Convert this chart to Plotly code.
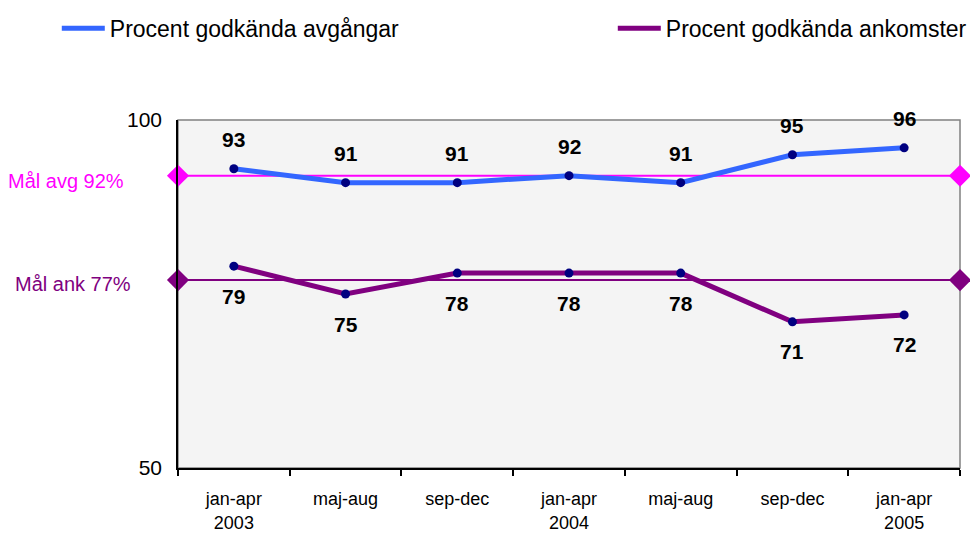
import plotly.graph_objects as go

categories = ["jan-apr<br>2003", "maj-aug", "sep-dec", "jan-apr<br>2004",
              "maj-aug", "sep-dec", "jan-apr<br>2005"]
avgangar = [93, 91, 91, 92, 91, 95, 96]
ankomster = [79, 75, 78, 78, 78, 71, 72]
mal_avg = 92
mal_ank = 77
y_ticks = [50, 100]

BLUE = "#3366FF"
PURPLE = "#800080"
MAGENTA = "#FF00FF"
NAVY = "#000080"
FONT = "Liberation Sans, Arial, sans-serif"

xs = list(range(len(categories)))
x_ends = [-0.5, len(categories) - 0.5]

fig = go.Figure()

# goal lines with diamond ends
fig.add_trace(go.Scatter(x=x_ends, y=[mal_avg, mal_avg], mode="lines+markers",
                         line=dict(color=MAGENTA, width=2),
                         marker=dict(symbol="diamond", size=17, color=MAGENTA),
                         showlegend=False, cliponaxis=False, hoverinfo="skip"))
fig.add_trace(go.Scatter(x=x_ends, y=[mal_ank, mal_ank], mode="lines+markers",
                         line=dict(color=PURPLE, width=2),
                         marker=dict(symbol="diamond", size=17, color=PURPLE),
                         showlegend=False, cliponaxis=False, hoverinfo="skip"))

# series lines
fig.add_trace(go.Scatter(x=xs, y=avgangar, mode="lines", name="Procent godkända avgångar",
                         line=dict(color=BLUE, width=5), legend="legend"))
fig.add_trace(go.Scatter(x=xs, y=ankomster, mode="lines", name="Procent godkända ankomster",
                         line=dict(color=PURPLE, width=5), legend="legend2"))
# markers
fig.add_trace(go.Scatter(x=xs, y=avgangar, mode="markers", showlegend=False,
                         marker=dict(color=NAVY, size=9)))
fig.add_trace(go.Scatter(x=xs, y=ankomster, mode="markers", showlegend=False,
                         marker=dict(color=NAVY, size=9)))

annotations = []
for x, v in zip(xs, avgangar):
    annotations.append(dict(x=x, y=v, text=f"<b>{v}</b>", showarrow=False, yshift=29,
                            font=dict(family=FONT, size=21, color="black")))
for x, v in zip(xs, ankomster):
    annotations.append(dict(x=x, y=v, text=f"<b>{v}</b>", showarrow=False, yshift=-30,
                            font=dict(family=FONT, size=21, color="black")))
annotations.append(dict(x=-0.5, y=mal_avg, xshift=-52, yshift=-5, xanchor="right",
                        text="Mål avg 92%", showarrow=False,
                        font=dict(family=FONT, size=20, color=MAGENTA)))
annotations.append(dict(x=-0.5, y=mal_ank, xshift=-45, yshift=-4, xanchor="right",
                        text="Mål ank 77%", showarrow=False,
                        font=dict(family=FONT, size=20, color=PURPLE)))

legend_common = dict(orientation="h", yanchor="top", xanchor="left", y=1.325,
                     font=dict(family=FONT, size=23, color="black"),
                     itemwidth=43, bgcolor="rgba(0,0,0,0)")

fig.update_layout(
    width=970, height=534,
    margin=dict(l=178, r=10, t=120, b=66, autoexpand=False),
    paper_bgcolor="white",
    plot_bgcolor="#F4F4F4",
    font=dict(family=FONT, color="black"),
    annotations=annotations,
    showlegend=True,
    legend=dict(x=-0.155, **legend_common),
    legend2=dict(x=0.556, **legend_common),
    shapes=[dict(type="rect", xref="paper", yref="paper", x0=0, x1=1, y0=0, y1=1,
                 line=dict(color="#808080", width=1.5), layer="below")],
)

fig.update_xaxes(range=[-0.5, len(categories) - 0.5], tickvals=xs, ticktext=categories,
                 showgrid=False, zeroline=False, showline=True, linecolor="black", linewidth=1.5,
                 ticks="", ticklabelstandoff=14, tickfont=dict(family=FONT, size=18, color="black"),
                 minor=dict(tickvals=[i - 0.5 for i in range(len(categories) + 1)],
                            ticks="outside", ticklen=6, tickcolor="black", tickwidth=1.5,
                            showgrid=False))
fig.update_yaxes(range=[50, 100], tickvals=y_ticks, showgrid=False, zeroline=False,
                 showline=True, linecolor="black", linewidth=1.5, ticks="",
                 ticklabelstandoff=10, tickfont=dict(family=FONT, size=21, color="black"))

fig.write_html("out.html", config={"displayModeBar": False},
               post_script="document.body.style.margin='0';document.body.style.overflow='hidden';")
